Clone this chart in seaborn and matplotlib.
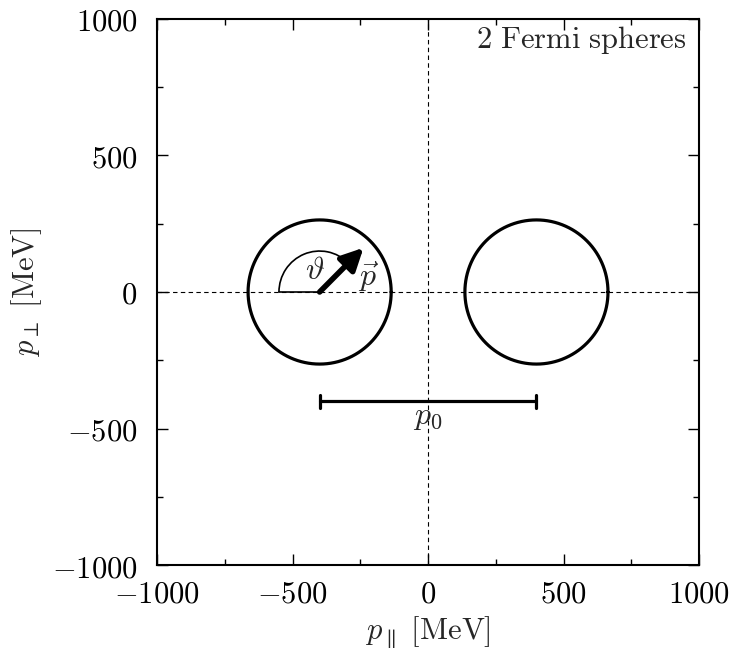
import numpy as np
import pandas as pd
import matplotlib
matplotlib.use("Agg")
import matplotlib.pyplot as plt
from matplotlib.patches import Arc
from matplotlib.ticker import MultipleLocator
import seaborn as sns

# Two Fermi spheres separated by p0 along the parallel axis
sphere_centers = [-400.0, 400.0]   # MeV
fermi_radius = 264.0               # MeV
p0_span = [-400.0, 400.0]          # MeV, bar showing the separation
p0_level = -400.0                  # MeV
momentum_tip = [-238.0, 162.0]     # MeV, tip of the momentum arrow
theta_arc_radius = 150.0           # MeV
theta_arc_angles = [45.0, 180.0]   # degrees
axis_limits = [-1000, 1000]
major_ticks = [-1000, -500, 0, 500, 1000]

sns.set_theme(style="ticks")
plt.rcParams["mathtext.fontset"] = "cm"
plt.rcParams["font.family"] = ["DejaVu Serif"]

fig = plt.figure(figsize=(7.32, 6.55), dpi=100)
ax = fig.add_axes([0.2145, 0.1374, 0.7405, 0.8336])

# circle outlines as tidy data
phi = np.linspace(0, 2 * np.pi, 361)
frames = []
for i, c in enumerate(sphere_centers):
    frames.append(pd.DataFrame({
        "p_par": c + fermi_radius * np.cos(phi),
        "p_perp": fermi_radius * np.sin(phi),
        "sphere": i,
    }))
circles = pd.concat(frames, ignore_index=True)

# dashed zero lines
ax.axhline(0, color="black", lw=0.8, ls=(0, (4, 3)), zorder=1)
ax.axvline(0, color="black", lw=0.8, ls=(0, (4, 3)), zorder=1)

for i, sub in circles.groupby("sphere"):
    sns.lineplot(data=sub, x="p_par", y="p_perp", sort=False, estimator=None,
                 color="black", lw=2.3, ax=ax, legend=False)

# angle theta
cx = sphere_centers[0]
ax.add_patch(Arc((cx, 0), 2 * theta_arc_radius, 2 * theta_arc_radius,
                 theta1=theta_arc_angles[0], theta2=theta_arc_angles[1],
                 color="black", lw=1.2, zorder=3))
ax.plot([cx - theta_arc_radius, cx], [0, 0], color="black", lw=1.2, zorder=3)

# momentum arrow
ax.annotate("", xy=(momentum_tip[0], momentum_tip[1]), xytext=(cx, 0),
            arrowprops=dict(arrowstyle="-|>,head_length=1.1,head_width=0.55",
                            color="black", lw=4, shrinkA=0, shrinkB=0),
            zorder=4)
ax.text(-417, 78, r"$\vartheta$", fontsize=23, ha="center", va="center")
ax.text(-221, 55, r"$\vec{p}$", fontsize=23, ha="center", va="center")

# separation bar p0
ax.plot(p0_span, [p0_level, p0_level], color="black", lw=2.3, zorder=3)
for x in p0_span:
    ax.plot([x, x], [p0_level - 24, p0_level + 24], color="black", lw=2.3,
            zorder=3)
ax.text(0, -455, r"$p_0$", fontsize=23, ha="center", va="center")

ax.text(0.976, 0.9615, r"$\mathrm{2\ Fermi\ spheres}$", transform=ax.transAxes,
        fontsize=22, ha="right", va="center")

ax.set_xlim(axis_limits)
ax.set_ylim(axis_limits)
ax.set_xticks(major_ticks)
ax.set_yticks(major_ticks)
ax.xaxis.set_minor_locator(MultipleLocator(250))
ax.yaxis.set_minor_locator(MultipleLocator(250))
ax.set_xticklabels([rf"${t}$" for t in major_ticks])
ax.set_yticklabels([rf"${t}$" for t in major_ticks])
ax.tick_params(which="both", direction="in", top=True, right=True,
               colors="black", labelsize=22, width=1)
ax.tick_params(which="major", length=8)
ax.tick_params(which="minor", length=4)
ax.tick_params(axis="x", which="major", pad=10)
ax.tick_params(axis="y", which="major", pad=14)
for s in ax.spines.values():
    s.set_color("black")
    s.set_linewidth(1.5)

ax.set_xlabel(r"$p_\parallel\ \mathrm{[MeV]}$", fontsize=22, labelpad=3)
ax.set_ylabel(r"$p_\perp\ \mathrm{[MeV]}$", fontsize=22, labelpad=6)

fig.savefig("out.png", dpi=100, facecolor="white")
